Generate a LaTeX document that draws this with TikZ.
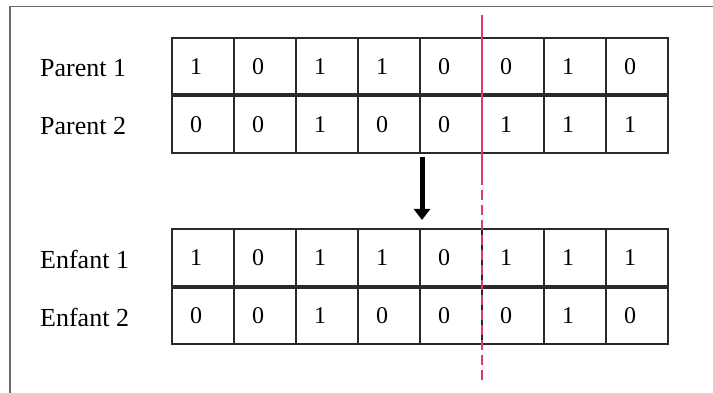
\documentclass[tikz,border=0pt]{standalone}
\usepackage{fontspec}
\setmainfont{Liberation Serif}
\usepackage{xcolor}
\usetikzlibrary{arrows.meta}
\definecolor{framegray}{HTML}{6B6B6B}
\definecolor{gridline}{HTML}{2A2A2A}
\definecolor{cutred}{HTML}{E0386A}

\begin{document}
\begin{tikzpicture}[x=1pt, y=-1pt,
      bitcell/.style={draw=gridline, line width=1.5pt, minimum width=62pt, minimum height=57.5pt,
                      inner sep=0pt, outer sep=0pt, text width=26pt, align=left,
                      font=\fontsize{24}{28}\selectfont},
      rowlabel/.style={anchor=west, inner sep=0pt, font=\fontsize{26}{30}\selectfont},
      thicksep/.style={draw=gridline, line width=4pt},
      bigarrow/.style={line width=5pt, -{Triangle[width=16pt, length=11pt]}},
      cutline/.style={draw=cutred, line width=1.2pt}]

      \useasboundingbox (0,0) rectangle (713,393);

      % Frame
      \draw[framegray, line width=1.5pt] (10,393) -- (10,6.5) -- (713,6.5);

      % --- Parents ---
      \foreach \b [count=\i] in {1,0,1,1,0,0,1,0}
        \node[bitcell] (pa-\i) at ({141+62*\i}, 66.75) {\b};
      \foreach \b [count=\i] in {0,0,1,0,0,1,1,1}
        \node[bitcell] (pb-\i) at ({141+62*\i}, 124.25) {\b};
      \draw[thicksep] (pa-1.south west) -- (pa-8.south east);

      \node[rowlabel] (lblpa) at (40, 68) {Parent 1};
      \node[rowlabel] (lblpb) at (40, 126) {Parent 2};

      % --- Enfants ---
      \foreach \b [count=\i] in {1,0,1,1,0,1,1,1}
        \node[bitcell] (ea-\i) at ({141+62*\i}, 257.75) {\b};
      \foreach \b [count=\i] in {0,0,1,0,0,0,1,0}
        \node[bitcell] (eb-\i) at ({141+62*\i}, 315.25) {\b};
      \draw[thicksep] (ea-1.south west) -- (ea-8.south east);

      \node[rowlabel] (lblea) at (40, 259) {Enfant 1};
      \node[rowlabel] (lbleb) at (40, 317) {Enfant 2};

      % Arrow
      \draw[bigarrow] ([xshift=2pt, yshift=-4pt]pb-4.south east) -- ([xshift=2pt, yshift=9pt]ea-4.north east);

      % Crossover point
      \coordinate (cuttop) at (482,15);
      \coordinate (cutmid) at (482,175);
      \coordinate (cutbot) at (482,382);
      \draw[cutline] (cuttop) -- (cutmid);
      \draw[cutline, dash pattern=on 10pt off 5pt] (cutmid) -- (cutbot);

\end{tikzpicture}
\end{document}
